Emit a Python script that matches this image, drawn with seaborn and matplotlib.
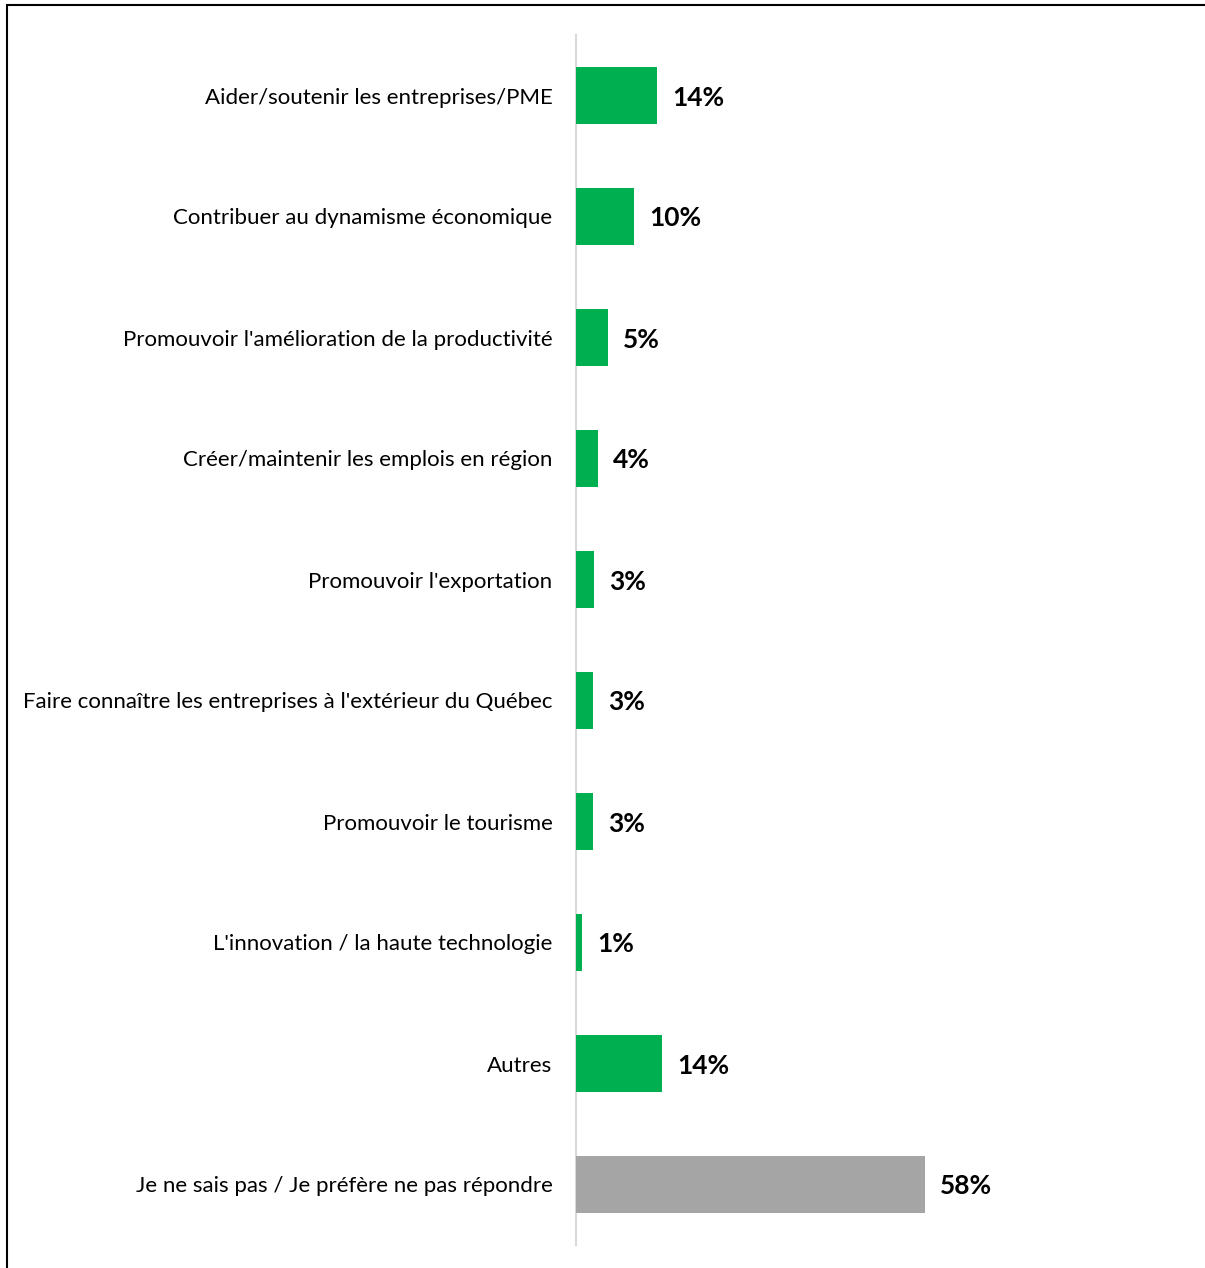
import pandas as pd
import matplotlib.pyplot as plt
import seaborn as sns
from matplotlib.patches import Rectangle

# Données
categories = [
    "Aider/soutenir les entreprises/PME",
    "Contribuer au dynamisme économique",
    "Promouvoir l'amélioration de la productivité",
    "Créer/maintenir les emplois en région",
    "Promouvoir l'exportation",
    "Faire connaître les entreprises à l'extérieur du Québec",
    "Promouvoir le tourisme",
    "L'innovation / la haute technologie",
    "Autres",
    "Je ne sais pas / Je préfère ne pas répondre",
]
valeurs = [13.5, 9.7, 5.4, 3.7, 3.0, 2.9, 2.8, 1.0, 14.4, 58.1]
etiquettes = ["14%", "10%", "5%", "4%", "3%", "3%", "3%", "1%", "14%", "58%"]
couleurs = ["#00B050"] * 9 + ["#A5A5A5"]

df = pd.DataFrame({"cat": categories, "val": valeurs})

sns.set_style("white")
plt.rcParams["font.family"] = ["Lato", "DejaVu Sans"]

fig = plt.figure(figsize=(12.05, 12.68), dpi=100)
ax = fig.add_axes([576 / 1205, 1 - 1245 / 1268, 600 / 1205, 1210 / 1268])

sns.barplot(data=df, x="val", y="cat", hue="cat", palette=couleurs,
            saturation=1, legend=False, width=0.47, linewidth=0,
            ax=ax, orient="h")

ax.set_xlim(0, 100)
ax.set_ylim(9.5, -0.5)
ax.set_xlabel("")
ax.set_ylabel("")
ax.set_xticks([])
for s in ["top", "right", "bottom"]:
    ax.spines[s].set_visible(False)
ax.spines["left"].set_color("#D9D9D9")
ax.spines["left"].set_linewidth(1.5)
ax.spines["left"].set_zorder(0.5)
ax.tick_params(axis="y", length=0, pad=17, labelsize=16, labelcolor="black")

for i, (v, t) in enumerate(zip(valeurs, etiquettes)):
    ax.text(v + 2.5, i, t, va="center_baseline", ha="left", fontsize=19,
            fontweight="bold", color="black")

# Cadre
fig.patches.append(Rectangle((7 / 1205, -0.1), 1.2, (1268 - 5) / 1268 + 0.1,
                             transform=fig.transFigure, fill=False,
                             edgecolor="black", linewidth=1.5))

fig.savefig("out.png", dpi=100)
